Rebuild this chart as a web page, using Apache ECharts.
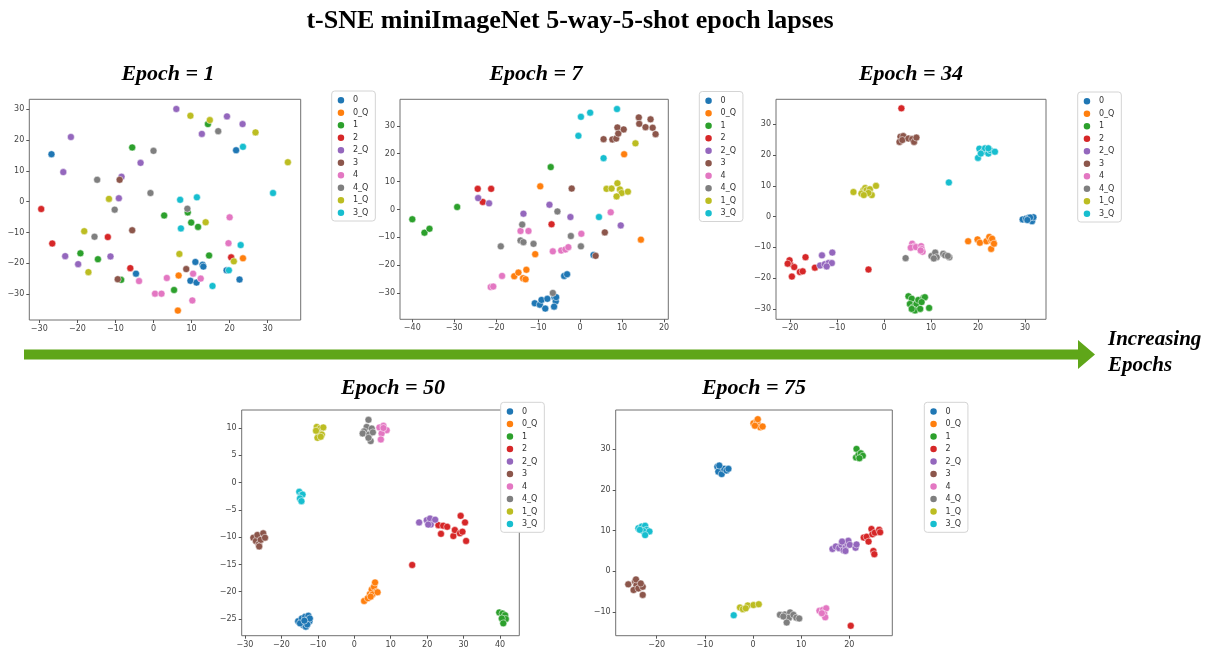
<!DOCTYPE html>
<html>
<head>
<meta charset="utf-8">
<script src="https://cdn.jsdelivr.net/npm/echarts@6/dist/echarts.min.js"></script>
<style>
html,body{margin:0;padding:0;background:#fff;}
#chart{width:1211px;height:654px;}
</style>
</head>
<body>
<div id="chart"></div>
<script>
// ---------- DATA ----------
const classes = ['0','0_Q','1','2','2_Q','3','4','4_Q','1_Q','3_Q'];
const epochTitles = ['Epoch = 1','Epoch = 7','Epoch = 34','Epoch = 50','Epoch = 75'];
const mainTitle = 't-SNE miniImageNet 5-way-5-shot epoch lapses';
const arrowText = ['Increasing','Epochs'];

// tick labels per subplot
const xTicks1 = [-30,-20,-10,0,10,20,30];
const yTicks1 = [-30,-20,-10,0,10,20,30];
const xTicks2 = [-40,-30,-20,-10,0,10,20];
const yTicks2 = [-30,-20,-10,0,10,20,30];
const xTicks3 = [-20,-10,0,10,20,30];
const yTicks3 = [-30,-20,-10,0,10,20,30];
const xTicks4 = [-30,-20,-10,0,10,20,30,40];
const yTicks4 = [-25,-20,-15,-10,-5,0,5,10];
const xTicks5 = [-20,-10,0,10,20];
const yTicks5 = [-10,0,10,20,30];

// points per epoch, one list per class in the order of `classes`
const epoch1 = [
  [[-26.8,15.4],[21.7,16.7],[-4.6,-23.4],[11.0,-19.6],[12.9,-20.5],[13.1,-21.1],[9.7,-25.7],[11.3,-26.3],[19.2,-22.3],[22.6,-25.3]],
  [[6.6,-24.0],[6.4,-35.4],[23.5,-18.4]],
  [[-5.6,17.6],[14.3,25.2],[2.8,-4.5],[9.0,-3.5],[9.9,-6.8],[11.7,-8.2],[-19.2,-16.8],[-14.6,-18.7],[14.6,-17.5],[-8.5,-25.4],[5.4,-28.7]],
  [[-29.5,-2.4],[-26.6,-13.6],[-12.0,-11.5],[-6.1,-21.6],[20.4,-18.1]],
  [[6.0,30.1],[-21.7,21.0],[19.3,27.7],[23.4,25.2],[12.7,22.0],[-23.7,9.6],[-3.4,12.6],[-8.4,8.1],[-9.1,1.1],[-23.2,-17.7],[-19.8,-20.3],[-11.3,-17.8]],
  [[-8.9,7.1],[-5.6,-9.3],[-9.4,-25.2],[8.6,-21.9]],
  [[20.0,-5.1],[19.7,-13.5],[10.4,-23.4],[12.4,-25.0],[-3.8,-25.8],[3.5,-24.8],[0.4,-29.9],[2.1,-29.9],[10.2,-32.1]],
  [[17.0,22.9],[0.0,16.5],[-14.8,7.1],[-0.8,2.8],[-10.2,-2.6],[-15.5,-11.4],[8.9,-2.3]],
  [[9.7,27.9],[14.8,26.5],[26.8,22.5],[35.3,12.8],[-11.7,0.9],[-18.2,-9.6],[13.7,-6.7],[6.8,-17.0],[-17.1,-22.9],[21.1,-19.4]],
  [[23.5,17.8],[31.4,2.8],[7.0,0.6],[11.4,1.4],[7.2,-8.7],[22.9,-14.1],[19.8,-22.3],[15.5,-27.4]]
];
const epoch7 = [
  [[-10.8,-33.6],[-9.6,-34.1],[-9.2,-32.4],[-8.3,-35.5],[-7.8,-32.0],[-6.1,-31.4],[-5.8,-32.9],[-6.2,-34.8],[-5.7,-31.4],[-3.8,-23.8],[-3.1,-23.2],[3.2,-16.3]],
  [[-9.5,8.3],[10.5,19.8],[14.5,-10.8],[-10.7,-16.0],[-15.7,-23.9],[-14.7,-22.6],[-13.6,-24.6],[-13.0,-25.0],[-12.8,-21.6]],
  [[-7.0,15.2],[-29.3,0.9],[-40.0,-3.5],[-37.1,-8.3],[-35.9,-6.9]],
  [[-24.4,7.4],[-21.2,7.4],[-23.2,2.7],[-6.8,-5.3]],
  [[-24.3,4.1],[-21.7,2.2],[-7.3,1.7],[-13.5,-1.5],[-2.3,-2.7],[9.7,-5.7]],
  [[-2.0,7.5],[5.9,-8.2],[3.7,-16.6],[5.6,25.2],[7.7,25.1],[8.6,25.4],[8.9,29.4],[9.1,27.2],[10.4,28.7],[14.0,33.0],[14.1,30.7],[15.6,29.5],[16.8,32.3],[17.3,29.3],[18.0,27.0]],
  [[-14.2,-7.7],[-12.3,-7.7],[0.3,-8.7],[7.3,-1.0],[-6.5,-15.0],[-4.5,-14.7],[-3.5,-14.3],[-2.8,-13.5],[-18.6,-23.8],[-21.3,-27.8],[-20.7,-27.6]],
  [[-5.4,-0.7],[-13.8,-5.4],[-14.2,-11.1],[-13.5,-11.7],[-11.1,-12.3],[-18.9,-13.2],[-2.2,-9.5],[0.2,-13.2],[-6.5,-29.9]],
  [[13.2,23.7],[8.9,9.4],[6.3,7.4],[7.5,7.5],[9.5,7.2],[9.9,5.9],[8.7,4.7],[11.4,6.4]],
  [[0.2,33.2],[2.4,34.7],[8.8,36.0],[-0.4,26.4],[5.6,18.4],[4.5,-2.7]]
];
const epoch34 = [
  [[29.5,-0.9],[30.2,-0.7],[30.8,-0.4],[31.2,-1.0],[31.5,-1.5],[31.8,-0.2],[31.1,-0.3],[30.5,-1.1]],
  [[17.9,-8.0],[19.9,-7.4],[20.4,-8.5],[21.8,-8.0],[22.4,-6.6],[22.8,-7.7],[23.3,-8.3],[23.0,-7.2],[22.8,-10.5],[23.4,-8.8]],
  [[5.2,-25.9],[5.9,-26.7],[5.5,-28.4],[6.2,-29.5],[6.9,-28.4],[7.3,-27.1],[8.4,-26.4],[8.7,-26.2],[8.0,-27.8],[6.6,-30.5],[7.7,-30.0],[9.6,-29.7],[5.9,-30.0]],
  [[3.7,35.2],[-3.3,-17.2],[-20.0,-15.3],[-20.1,-14.2],[-19.1,-16.4],[-19.6,-19.5],[-17.9,-18.0],[-17.3,-17.8],[-16.7,-13.2],[-14.7,-16.6],[-20.5,-15.3]],
  [[-13.2,-12.6],[-11.0,-11.7],[-13.6,-15.9],[-12.6,-15.5],[-11.8,-15.1],[-11.1,-15.1],[-12.2,-16.2]],
  [[3.5,26.0],[4.1,26.2],[3.3,24.3],[3.9,24.9],[5.2,25.4],[6.0,25.2],[6.4,24.3],[6.9,25.7]],
  [[6.0,-8.8],[6.5,-9.7],[5.7,-10.1],[6.8,-9.9],[7.9,-9.6],[8.0,-10.5],[8.2,-11.4],[7.8,-11.0]],
  [[4.6,-13.5],[10.1,-12.8],[10.9,-11.7],[11.2,-13.2],[10.6,-13.6],[12.6,-12.1],[13.0,-12.6],[13.9,-13.2],[13.6,-12.8]],
  [[-6.5,8.0],[-4.4,8.6],[-4.0,9.3],[-3.7,8.6],[-3.0,8.9],[-4.8,7.5],[-2.6,7.0],[-1.7,10.0],[-3.3,7.7],[-4.3,7.0]],
  [[13.8,11.1],[20.0,19.1],[20.3,22.1],[21.1,21.1],[21.5,22.2],[22.2,20.5],[22.6,21.6],[23.6,21.1],[22.2,22.2],[20.6,20.5]]
];
const epoch50 = [
  [[-15.4,-25.4],[-14.4,-24.9],[-13.5,-24.6],[-12.6,-24.4],[-12.3,-25.4],[-14.0,-26.1],[-13.3,-26.4],[-14.9,-25.8],[-12.9,-26.0],[-12.2,-24.9],[-13.7,-25.3]],
  [[2.7,-21.7],[3.7,-21.2],[4.3,-20.4],[4.8,-19.6],[5.4,-19.1],[6.1,-20.0],[5.0,-20.5],[5.7,-18.3],[4.5,-20.9],[6.4,-20.1]],
  [[39.8,-23.8],[40.7,-24.0],[41.4,-24.3],[41.6,-25.0],[40.5,-24.9],[40.9,-25.8]],
  [[15.9,-15.1],[23.8,-9.4],[23.1,-7.8],[24.4,-7.9],[25.5,-8.1],[27.2,-9.8],[27.6,-8.7],[29.0,-9.3],[29.7,-9.0],[29.2,-6.1],[30.4,-7.3],[30.7,-10.7]],
  [[17.8,-7.3],[19.9,-6.9],[20.8,-6.6],[21.0,-7.7],[22.2,-6.8],[20.3,-7.7]],
  [[-27.7,-10.1],[-27.0,-10.7],[-26.6,-9.6],[-26.2,-11.3],[-25.7,-10.5],[-25.0,-9.3],[-24.5,-10.1],[-26.1,-11.7]],
  [[6.9,10.1],[8.0,10.4],[8.9,9.6],[7.5,9.0],[7.3,7.9],[8.0,10.0]],
  [[3.9,11.5],[3.4,10.2],[2.7,9.4],[2.3,9.0],[4.1,8.8],[4.5,7.6],[4.8,9.9],[5.1,9.2],[3.9,8.2]],
  [[-10.3,10.2],[-9.4,9.9],[-8.5,10.1],[-9.8,9.0],[-8.9,8.8],[-10.1,8.2],[-9.2,8.4],[-10.5,9.5]],
  [[-15.1,-1.7],[-14.6,-2.3],[-14.2,-2.2],[-14.9,-2.9],[-14.5,-3.4]]
];
const epoch75 = [
  [[-7.4,25.7],[-6.9,25.2],[-7.2,24.5],[-6.5,23.9],[-6.0,25.2],[-5.5,24.8],[-5.1,25.2],[-7.0,26.0]],
  [[0.1,36.4],[0.8,37.0],[1.1,36.0],[1.5,35.4],[2.0,35.6],[0.4,35.8],[1.0,37.4]],
  [[21.5,30.1],[21.4,28.0],[21.9,28.6],[22.4,29.0],[22.8,28.4],[22.1,27.8]],
  [[23.0,8.3],[23.6,8.5],[24.0,7.3],[24.6,10.4],[24.8,9.1],[25.3,9.5],[26.2,10.2],[26.4,9.6],[25.0,5.0],[25.2,4.2],[20.3,-13.4]],
  [[16.5,5.5],[17.2,6.1],[17.9,5.7],[18.4,6.5],[18.8,5.2],[19.3,6.1],[19.5,6.9],[19.8,7.5],[20.1,6.5],[19.2,5.0],[21.3,5.8],[21.5,6.6],[18.5,7.3]],
  [[-25.9,-3.2],[-24.5,-2.5],[-24.2,-3.4],[-24.8,-4.6],[-23.8,-4.2],[-22.9,-3.8],[-22.9,-5.8],[-24.3,-2.0],[-23.3,-3.0]],
  [[13.8,-9.7],[14.5,-9.5],[15.2,-9.1],[14.8,-10.5],[15.0,-11.3],[14.3,-10.3]],
  [[5.6,-10.7],[6.6,-10.6],[7.7,-10.1],[7.5,-11.4],[7.0,-12.6],[8.4,-10.7],[9.0,-11.4],[9.6,-11.6],[6.3,-11.1]],
  [[-2.7,-8.9],[-2.1,-9.3],[-1.1,-8.4],[0.1,-8.3],[1.2,-8.1],[-1.5,-9.1]],
  [[-23.8,10.6],[-23.1,11.0],[-22.4,11.2],[-22.1,10.2],[-22.8,9.9],[-21.5,9.8],[-22.4,8.9],[-23.5,10.2],[-4.0,-10.8]]
];

// ---------- STYLE / LAYOUT ----------
const palette = ['#1f77b4','#ff7f0e','#2ca02c','#d62728','#9467bd','#8c564b','#e377c2','#7f7f7f','#bcbd22','#17becf'];
const epochs = [epoch1, epoch7, epoch34, epoch50, epoch75];
const xTicks = [xTicks1, xTicks2, xTicks3, xTicks4, xTicks5];
const yTicks = [yTicks1, yTicks2, yTicks3, yTicks4, yTicks5];
const panels = [
  {grid:{left:29.3, top:99.3, width:271.4, height:220.7}, x:[-32.63,38.67], y:[-38.45,33.25], legend:{left:331.7, top:91}, title:[168,74]},
  {grid:{left:400, top:99.3, width:268.3, height:220.0}, x:[-42.93,21.03], y:[-39.34,39.49], legend:{left:699.3, top:91.5}, title:[536,74]},
  {grid:{left:776, top:99.3, width:270, height:220.0}, x:[-22.98,34.47], y:[-33.39,38.15], legend:{left:1077.7, top:92}, title:[911,74]},
  {grid:{left:241.7, top:410, width:277.6, height:225.7}, x:[-30.9,45.3], y:[-28.06,13.3], legend:{left:500.7, top:402.3}, title:[393,388]},
  {grid:{left:615.7, top:410, width:276.6, height:225.7}, x:[-28.51,28.93], y:[-15.83,39.66], legend:{left:924.3, top:402.3}, title:[754,388]}
];
const fmt = v => (v < 0 ? '\u2212' + (-v) : String(v));
const tickFont = {fontSize:8, color:'#444', fontFamily:'DejaVu Sans'};

const grids = [], xAxes = [], yAxes = [], legends = [], series = [], graphics = [];
panels.forEach((p, i) => {
  grids.push(Object.assign({show:true, borderColor:'#707070', borderWidth:1, backgroundColor:'#fff', containLabel:false}, p.grid));
  xAxes.push({type:'value', gridIndex:i, min:p.x[0], max:p.x[1], position:'bottom',
    axisLine:{show:false, onZero:false}, splitLine:{show:false},
    axisTick:{show:true, customValues:xTicks[i], length:3, lineStyle:{color:'#555'}},
    axisLabel:Object.assign({customValues:xTicks[i], formatter:fmt, margin:5}, tickFont)});
  yAxes.push({type:'value', gridIndex:i, min:p.y[0], max:p.y[1], position:'left',
    axisLine:{show:false, onZero:false}, splitLine:{show:false},
    axisTick:{show:true, customValues:yTicks[i], length:3, lineStyle:{color:'#555'}},
    axisLabel:Object.assign({customValues:yTicks[i], formatter:fmt, margin:5}, tickFont)});
  legends.push({data:classes.slice(), orient:'vertical', left:p.legend.left, top:p.legend.top,
    icon:'circle', itemWidth:14, itemHeight:8.5, itemGap:0, selectedMode:false,
    padding:[3,7,2,4], borderColor:'#d4d4d4', borderWidth:1, borderRadius:3, backgroundColor:'#fff',
    textStyle:{fontSize:8, color:'#333', fontFamily:'DejaVu Sans', lineHeight:12.5}, z:10});
  classes.forEach((c, k) => {
    series.push({type:'scatter', name:c, xAxisIndex:i, yAxisIndex:i, data:epochs[i][k],
      symbol:'circle', symbolSize:7, silent:true,
      itemStyle:{color:palette[k], borderColor:'#fff', borderWidth:0.5, opacity:1}});
  });
  graphics.push({type:'text', x:p.title[0], y:p.title[1],
    style:{text:epochTitles[i], font:'italic bold 22px "Liberation Serif"', fill:'#000', align:'center', verticalAlign:'middle'}});
});

graphics.push({type:'text', x:570, y:21,
  style:{text:mainTitle, font:'bold 26px "Liberation Serif"', fill:'#000', align:'center', verticalAlign:'middle'}});
graphics.push({type:'polygon', shape:{points:[[24,349.5],[1078,349.5],[1078,340],[1095,354.5],[1078,369],[1078,359.5],[24,359.5]]},
  style:{fill:'#5fa619'}});
graphics.push({type:'text', x:1108, y:340,
  style:{text:arrowText[0], font:'italic bold 21px "Liberation Serif"', fill:'#000', align:'left', verticalAlign:'middle'}});
graphics.push({type:'text', x:1108, y:366,
  style:{text:arrowText[1], font:'italic bold 21px "Liberation Serif"', fill:'#000', align:'left', verticalAlign:'middle'}});

const chart = echarts.init(document.getElementById('chart'), null, {renderer:'canvas'});
chart.setOption({
  animation:false,
  backgroundColor:'#fff',
  grid:grids, xAxis:xAxes, yAxis:yAxes, legend:legends, series:series, graphic:graphics
});
</script>
</body>
</html>
